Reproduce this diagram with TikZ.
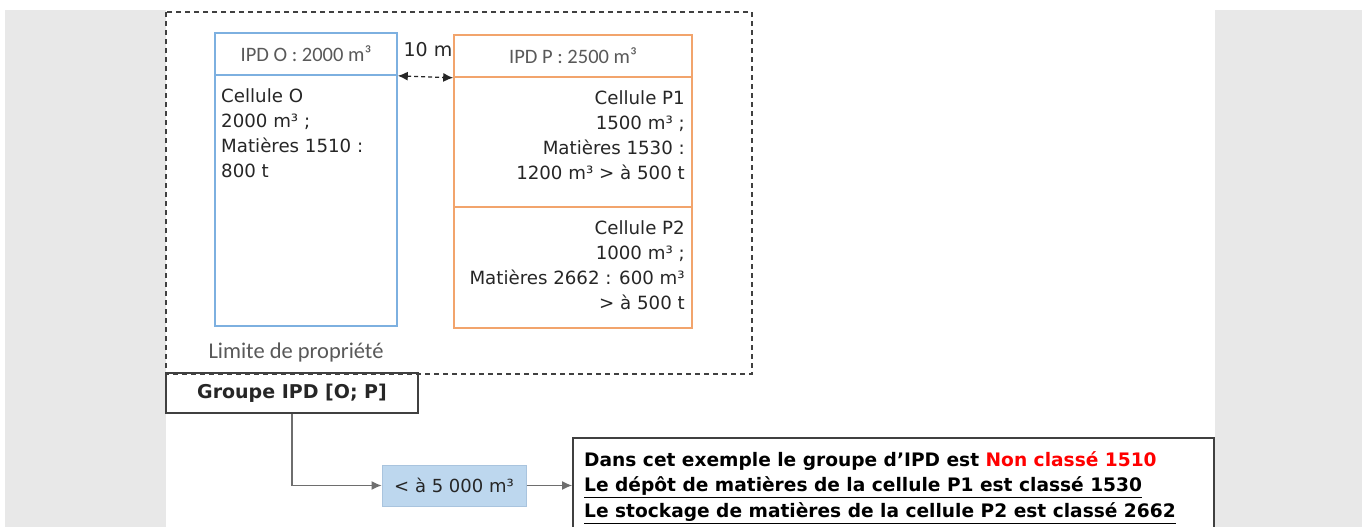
\documentclass[tikz,border=0pt]{standalone}
\usepackage{fontspec}
\setmainfont{DejaVu Sans}
\newfontfamily\hdrfont{Carlito}
\usetikzlibrary{arrows.meta}
\definecolor{bgray}{HTML}{E8E8E8}
\definecolor{blueline}{HTML}{7DB0E0}
\definecolor{orangeline}{HTML}{F2A46C}
\definecolor{seuilfill}{HTML}{BDD7EE}
\definecolor{seuilline}{HTML}{A9C4DE}
\definecolor{txt}{HTML}{262626}
\definecolor{hdr}{HTML}{595959}
\definecolor{frame}{HTML}{404040}
\definecolor{conn}{HTML}{6E6E6E}
\definecolor{alert}{HTML}{FF0000}
\begin{document}
\begin{tikzpicture}[x=1pt,y=-1pt,
  boxO/.style={draw=blueline,line width=1.6pt,inner sep=0pt,rectangle},
  boxP/.style={draw=orangeline,line width=1.6pt,inner sep=0pt,rectangle},
  hdrtext/.style={font=\hdrfont\fontsize{20.5}{22}\selectfont,text=hdr,inner sep=0pt},
  celltext/.style={font=\fontsize{18.2}{25.3}\selectfont,text=txt,inner sep=0pt},
  blackbox/.style={draw=frame,line width=1.6pt,inner sep=0pt,rectangle},
  conarrow/.style={draw=conn,line width=1.1pt,-{Latex[length=10pt,width=9pt]}},
]
\useasboundingbox (0,0) rectangle (1362,527);
\clip (0,0) rectangle (1362,527);
% background
\fill[white] (0,0) rectangle (1362,527);
\fill[bgray] (5,10) rectangle (1362,527);
\fill[white] (166,0) rectangle (1215,527);

% property limit
\draw[frame,line width=1.5pt,dash pattern=on 5pt off 4pt] (166,12) rectangle (752,374);
\node[font=\hdrfont\fontsize{22.5}{24}\selectfont,text=hdr,inner sep=0pt] (lim) at (296,352) {Limite de propriété};

% IPD O
\node[boxO,minimum width=182pt,minimum height=42pt] (hO) at (306,54) {};
\node[boxO,minimum width=182pt,minimum height=251pt] (cO) at (306,200.5) {};
\node[hdrtext] (thO) at (hO.center) {IPD O : 2000 m³};
\node[celltext,anchor=north west,align=left] (tO) at (221,88) {Cellule O\\2000 m³ ;\\Matières 1510 :\\800 t};

% IPD P
\node[boxP,minimum width=238pt,minimum height=42pt] (hP) at (573,56) {};
\node[boxP,minimum width=238pt,minimum height=130pt] (p1) at (573,142) {};
\node[boxP,minimum width=238pt,minimum height=121pt] (p2) at (573,267.5) {};
\node[hdrtext] (thP) at (hP.center) {IPD P : 2500 m³};
\node[celltext,anchor=north east,align=right] (tP1) at (685,90) {Cellule P1\\1500 m³ ;\\Matières 1530 :\\1200 m³ > à 500 t};
\node[celltext,anchor=north east,align=right] (tP2) at (685,220) {Cellule P2\\1000 m³ ;\\Matières 2662 : 600 m³\\> à 500 t};

% distance
\coordinate (dO) at (hO.south east);
\coordinate (dP) at (hP.south west);
\draw[txt,line width=1.2pt,dash pattern=on 4pt off 3pt,{Latex[length=10pt,width=9pt]}-{Latex[length=10pt,width=9pt]}] (dO) -- (dP);
\node[font=\fontsize{19}{20}\selectfont,text=txt,inner sep=0pt] (dist) at (428,50) {10 m};

% group
\node[blackbox,minimum width=252pt,minimum height=40pt] (grp) at (292,393) {};
\node[font=\bfseries\fontsize{19}{20}\selectfont,text=txt,inner sep=0pt] (tgrp) at (grp.center) {Groupe IPD [O; P]};

% threshold
\node[draw=seuilline,fill=seuilfill,line width=1pt,minimum width=144pt,minimum height=41pt,inner sep=0pt,font=\fontsize{18}{20}\selectfont,text=txt] (seuil) at (454,485.5) {< à 5 000 m³};

% result
\node[blackbox,minimum width=641pt,minimum height=110pt,anchor=north west] (res) at (572,437) {};
\node[font=\bfseries\fontsize{18.6}{25.8}\selectfont,text=black,inner sep=0pt,anchor=north west,align=left] (tres) at (584,451)
  {Dans cet exemple le groupe d’IPD est \textcolor{alert}{Non classé 1510}\\
   \underline{Le dépôt de matières de la cellule P1 est classé 1530}\\
   \underline{Le stockage de matières de la cellule P2 est classé 2662}};

% connectors
\draw[conarrow] (grp.south) |- (seuil.west);
\draw[conarrow] (seuil.east) -- (seuil.east -| res.west);
\end{tikzpicture}
\end{document}
